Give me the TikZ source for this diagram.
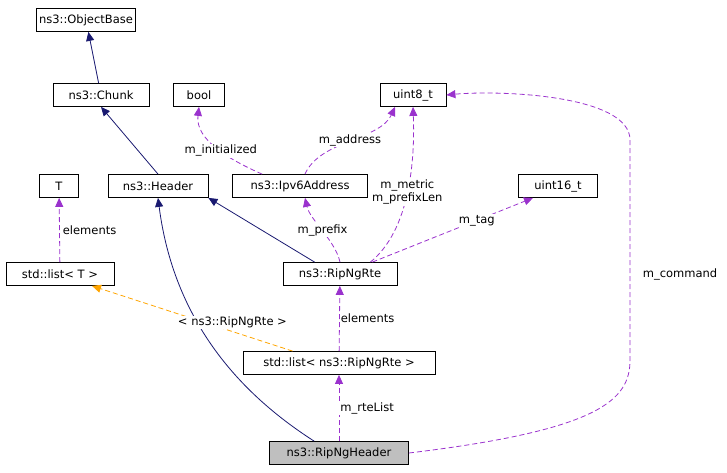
\documentclass[tikz,border=0pt]{standalone}
\usepackage{fontspec}
\setmainfont{DejaVu Sans}
\usetikzlibrary{arrows.meta}
\definecolor{navy}{RGB}{25,25,112}
\definecolor{dpurple}{RGB}{154,50,205}
\definecolor{dorange}{RGB}{255,165,0}
\begin{document}
\begin{tikzpicture}[x=1pt,y=-1pt,font=\fontsize{11.5}{13}\selectfont,line width=0.8pt]
        \tikzstyle{cls}=[draw, fill=white, inner sep=0pt, minimum height=23pt]
        \tikzstyle{inh}=[navy, -{Triangle[length=9pt,width=8pt]}]
        \tikzstyle{use}=[dpurple, dash pattern=on 5pt off 3pt, -{Triangle[length=9pt,width=8pt]}]
        \tikzstyle{tpl}=[dorange, dash pattern=on 5pt off 3pt, -{Triangle[length=9pt,width=8pt]}]
        \tikzstyle{lbl}=[text=black, fill=white, inner sep=1pt]
        \useasboundingbox (0,0) rectangle (727,473);

        \node[cls, minimum width=99pt] (objbase) at (86,20) {ns3::ObjectBase};
        \node[cls, minimum width=96pt] (chunk) at (101,95) {ns3::Chunk};
        \node[cls, minimum width=51pt] (bool) at (199,95) {bool};
        \node[cls, minimum width=66pt] (uint8) at (413,95) {uint8\_t};
        \node[cls, minimum width=39pt] (tt) at (59,186) {T};
        \node[cls, minimum width=100pt] (header) at (158,186) {ns3::Header};
        \node[cls, minimum width=135pt] (ipv6) at (300,186) {ns3::Ipv6Address};
        \node[cls, minimum width=79pt] (uint16) at (558,186) {uint16\_t};
        \node[cls, minimum width=108pt] (listt) at (60,274) {std::list< T >};
        \node[cls, minimum width=114pt] (rte) at (340,274) {ns3::RipNgRte};
        \node[cls, minimum width=192pt] (listrte) at (339,363) {std::list< ns3::RipNgRte >};
        \node[cls, minimum width=139pt, fill=black!25] (ripng) at (339,453) {ns3::RipNgHeader};

        \draw[inh] (chunk) -- (objbase);
        \draw[inh] (header.north) -- (chunk.south);
        \draw[inh] (rte.north west) ++(32,0) -- (header.south east);
        \draw[inh] (ripng.north west) ++(45,0) .. controls (250,400) and (175,330) .. (header.south);

        \draw[use] (ipv6.north west) ++(30,0) .. controls (230,160) and (195,140) .. (bool.south)
            node[lbl, pos=0.45] {m\_initialized};
        \draw[use] (ipv6.north) ++(5,0) .. controls (320,140) and (380,140) .. ([xshift=-18pt]uint8.south)
            node[lbl, pos=0.5] {m\_address};
        \draw[use] (rte.north east) ++(-27,0) .. controls (410,230) and (415,160) .. (uint8.south)
            node[lbl, pos=0.5, align=center] {m\_metric\\m\_prefixLen};
        \draw[use] (rte.north) .. controls (335,240) and (310,220) .. ([xshift=5pt]ipv6.south)
            node[lbl, pos=0.5] {m\_prefix};
        \draw[use] (rte.north east) ++(-25,0) -- ([xshift=-25pt]uint16.south)
            node[lbl, pos=0.65] {m\_tag};
        \draw[use] (listt) -- (tt) node[lbl, pos=0.5, right, xshift=2pt] {elements};
        \draw[tpl] (listrte.north west) ++(50,0) -- ([xshift=32pt]listt.south)
            node[lbl, pos=0.3, above, yshift=2pt] {< ns3::RipNgRte >};
        \draw[use] (listrte) -- (rte) node[lbl, pos=0.5, right] {elements};
        \draw[use] (ripng) -- (listrte) node[lbl, pos=0.5, right] {m\_rteList};
        \draw[use] (ripng.east) .. controls (600,430) and (630,400) .. (630,360)
            -- (630,140) .. controls (630,95) and (500,90) .. (uint8.east);
        \node[lbl] (mcmd) at (680,274) {m\_command};
    \end{tikzpicture}
\end{document}
